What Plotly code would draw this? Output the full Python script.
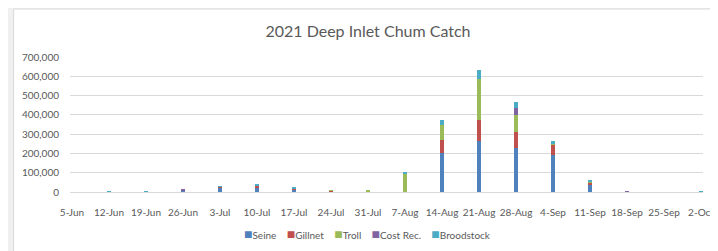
import plotly.graph_objects as go

weeks = ["2021-06-05", "2021-06-12", "2021-06-19", "2021-06-26", "2021-07-03", "2021-07-10",
         "2021-07-17", "2021-07-24", "2021-07-31", "2021-08-07", "2021-08-14", "2021-08-21",
         "2021-08-28", "2021-09-04", "2021-09-11", "2021-09-18", "2021-09-25", "2021-10-02"]

seine      = [0, 0, 0, 10000, 21000, 25000, 12000, 2000, 0, 0, 200000, 264000, 230000, 192000, 36000, 0, 0, 0]
gillnet    = [0, 500, 1000, 0, 6000, 9000, 4000, 6000, 4000, 2000, 69000, 109000, 83000, 55000, 14000, 2000, 0, 0]
troll      = [0, 0, 0, 0, 0, 0, 0, 1000, 4000, 92000, 78000, 213000, 85000, 4000, 3000, 0, 0, 0]
cost_rec   = [0, 0, 500, 1000, 0, 0, 1000, 0, 0, 1000, 0, 0, 39000, 0, 0, 1000, 0, 0]
broodstock = [0, 500, 500, 0, 1000, 7000, 5000, 0, 0, 5000, 26000, 47000, 30000, 12000, 5000, 0, 0, 3000]

names = ["Seine", "Gillnet", "Troll", "Cost Rec.", "Broodstock"]
series = [seine, gillnet, troll, cost_rec, broodstock]
colors = ["#4F81BD", "#C0504D", "#9BBB59", "#8064A2", "#4BACC6"]

FONT = "Lato, Open Sans, sans-serif"
TXT = "#595959"
DAY = 86400000

fig = go.Figure()
for n, v, c in zip(names, series, colors):
    fig.add_trace(go.Bar(x=weeks, y=v, name=n, marker=dict(color=c, line_width=0),
                         width=DAY * 0.58, showlegend=False))

legend_text = "&nbsp;&nbsp;&nbsp;&nbsp;".join(
    f"<span style='color:{c};font-size:14px'>■</span>{n}" for n, c in zip(names, colors))

fig.update_layout(
    width=718, height=251,
    barmode="stack",
    margin=dict(l=62, r=16, t=49, b=67),
    paper_bgcolor="#f0f0f0",
    plot_bgcolor="rgba(0,0,0,0)",
    font=dict(family=FONT, size=10, color=TXT),
    title=dict(text="2021 Deep Inlet Chum Catch", x=360 / 718, xanchor="center",
               y=1 - 23 / 251, yanchor="middle", yref="container",
               font=dict(family=FONT, size=16, color=TXT)),
    xaxis=dict(type="date", range=["2021-06-04 15:00", "2021-10-02 09:00"],
               tick0="2021-06-05", dtick=7 * DAY, tickformat="%-d-%b",
               showgrid=False, zeroline=False, showline=False, ticks="",
               ticklabeloverflow="allow",
               ticklabelstandoff=13, tickfont=dict(size=10, color=TXT)),
    yaxis=dict(range=[0, 700000], dtick=100000, tickformat=",d",
               showgrid=True, gridcolor="#d9d9d9", gridwidth=1,
               zeroline=True, zerolinecolor="#d9d9d9", zerolinewidth=1,
               ticks="", ticklabelstandoff=10, tickfont=dict(size=10, color=TXT)),
    shapes=[dict(type="rect", xref="paper", yref="paper",
                 x0=(13 - 70) / 640, x1=1.08, y0=-0.6, y1=(192 - 9) / 135,
                 fillcolor="white", line=dict(color="#d9d9d9", width=1), layer="below")],
    annotations=[dict(text=legend_text, xref="paper", yref="paper",
                      x=(371 - 70) / 640, y=(192 - 233) / 135, xanchor="center", yanchor="middle",
                      showarrow=False, font=dict(family=FONT, size=10, color=TXT))],
)

fig.write_html("out.html")
